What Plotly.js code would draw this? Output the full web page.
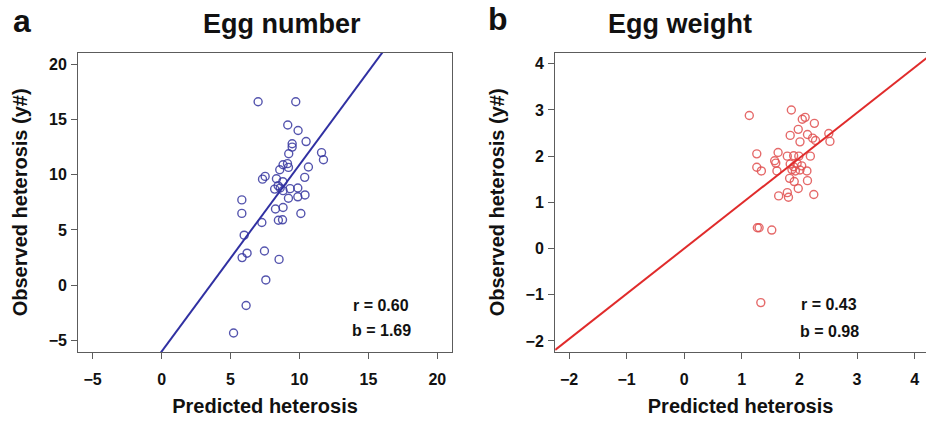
<!DOCTYPE html>
<html>
<head>
<meta charset="utf-8">
<script src="https://cdn.plot.ly/plotly-3.0.1.min.js"></script>
<style>
  html, body { margin: 0; padding: 0; background: #ffffff; }
  #chart { width: 926px; height: 421px; }
</style>
</head>
<body>
<div id="chart"></div>
<script>
// Panel a: egg number, predicted vs observed heterosis
const eggNumberPredicted = [
  7.0, 9.73, 9.15, 9.9, 10.48, 9.47, 9.47, 11.6, 11.74, 9.22,
  8.81, 9.13, 9.2, 8.57, 10.65, 7.51, 7.32, 10.38, 8.33, 8.79,
  8.45, 8.6, 8.2, 8.81, 9.32, 9.88, 9.88, 10.4, 9.2, 5.82,
  5.82, 8.26, 8.81, 10.1, 8.47, 8.77, 7.27, 5.99, 6.2, 5.84,
  7.46, 8.52, 7.56, 6.13, 5.22
];
const eggNumberObserved = [
  16.6, 16.6, 14.5, 14.0, 13.0, 12.8, 12.5, 12.0, 11.35, 11.9,
  10.9, 11.0, 10.66, 10.45, 10.7, 9.85, 9.6, 9.76, 9.64, 9.37,
  9.0, 8.8, 8.7, 8.56, 8.74, 8.8, 8.0, 8.17, 7.87, 7.72,
  6.5, 6.9, 7.03, 6.49, 5.88, 5.92, 5.68, 4.53, 2.9, 2.5,
  3.1, 2.34, 0.48, -1.83, -4.32
];
const eggNumberFit = { r: 0.60, slope: 1.69, intercept: -6.0 };

// Panel b: egg weight, predicted vs observed heterosis
const eggWeightPredicted = [
  1.13, 1.86, 2.05, 2.10, 2.26, 1.98, 1.84, 2.14, 2.01, 2.23,
  2.28, 2.51, 2.53, 1.26, 1.63, 1.79, 1.90, 1.99, 2.19, 1.57,
  1.59, 1.26, 1.34, 1.61, 1.84, 1.90, 1.96, 2.04, 1.87, 1.93,
  2.01, 2.13, 1.83, 1.91, 2.14, 1.98, 1.64, 1.79, 1.81, 2.25,
  1.27, 1.30, 1.52, 1.33
];
const eggWeightObserved = [
  2.88, 3.0, 2.8, 2.84, 2.71, 2.58, 2.45, 2.47, 2.31, 2.39,
  2.34, 2.49, 2.32, 2.05, 2.08, 2.0, 2.01, 2.0, 2.0, 1.9,
  1.85, 1.76, 1.68, 1.68, 1.83, 1.77, 1.84, 1.79, 1.71, 1.68,
  1.70, 1.68, 1.52, 1.45, 1.47, 1.30, 1.14, 1.21, 1.11, 1.17,
  0.45, 0.45, 0.40, -1.17
];
const eggWeightFit = { r: 0.43, slope: 0.98, intercept: 0.0 };

// Tick values
const ticksA = [-5, 0, 5, 10, 15, 20];
const ticksB = [-2, -1, 0, 1, 2, 3, 4];

// Axis ranges (R-style 4% padding)
const xRangeA = [-6.04, 21.04];
const yRangeA = [-6.04, 21.04];
const xRangeB = [-2.24, 4.198];
const yRangeB = [-2.24, 4.24];

const FONT = 'Liberation Sans, Arial, Helvetica, sans-serif';
const FRAME = '#5c5c5c';
const W = 926, H = 421;
const px = v => v / W;
const py = v => 1 - v / H;

function fitLine(fit, range) {
  return { x: range.slice(), y: range.map(v => fit.slope * v + fit.intercept) };
}

const lineA = fitLine(eggNumberFit, xRangeA);
const lineB = fitLine(eggWeightFit, [xRangeB[0], 4.24]);

const traces = [
  {
    x: eggNumberPredicted, y: eggNumberObserved, xaxis: 'x', yaxis: 'y',
    type: 'scatter', mode: 'markers',
    marker: { symbol: 'circle-open', size: 8, color: 'rgba(55,55,160,0.85)', line: { width: 1.4 } },
    hoverinfo: 'x+y'
  },
  {
    x: lineA.x, y: lineA.y, xaxis: 'x', yaxis: 'y',
    type: 'scatter', mode: 'lines',
    line: { color: '#3030a2', width: 2 }, hoverinfo: 'skip'
  },
  {
    x: eggWeightPredicted, y: eggWeightObserved, xaxis: 'x2', yaxis: 'y2',
    type: 'scatter', mode: 'markers',
    marker: { symbol: 'circle-open', size: 8, color: 'rgba(225,80,80,0.85)', line: { width: 1.4 } },
    hoverinfo: 'x+y'
  },
  {
    x: lineB.x, y: lineB.y, xaxis: 'x2', yaxis: 'y2',
    type: 'scatter', mode: 'lines',
    line: { color: '#e02b2b', width: 2 }, hoverinfo: 'skip'
  }
];

const tickFont = { family: FONT, size: 16, color: '#111', weight: 'bold' };
const titleFont = { family: FONT, size: 20, color: '#111', weight: 'bold' };

function axisBase(extra) {
  return Object.assign({
    ticks: 'outside', ticklen: 6, tickwidth: 1, tickcolor: FRAME,
    showline: true, linecolor: FRAME, linewidth: 1.2,
    showgrid: false, zeroline: false, tickfont: tickFont,
    fixedrange: true
  }, extra);
}

const yDomain = [(H - 352) / H, (H - 52.7) / H];

const layout = {
  width: W, height: H,
  margin: { l: 0, r: 0, t: 0, b: 0 },
  paper_bgcolor: '#ffffff', plot_bgcolor: '#ffffff',
  showlegend: false,
  font: { family: FONT },
  xaxis: axisBase({
    domain: [px(78.3), px(451.7)], range: xRangeA, tickvals: ticksA, anchor: 'y', mirror: true,
    ticklabelstandoff: 7,
    title: { text: 'Predicted heterosis', font: titleFont, standoff: 11 }
  }),
  yaxis: axisBase({
    domain: yDomain, range: yRangeA, tickvals: ticksA, anchor: 'x', mirror: true,
    ticklabelstandoff: 1,
    title: { text: 'Observed heterosis (y#)', font: titleFont, standoff: 15 }
  }),
  xaxis2: axisBase({
    domain: [px(555.2), 1], range: xRangeB, tickvals: ticksB, anchor: 'y2', mirror: true,
    ticklabelstandoff: 7,
    title: { text: 'Predicted heterosis', font: titleFont, standoff: 11 }
  }),
  yaxis2: axisBase({
    domain: yDomain, range: yRangeB, tickvals: ticksB, anchor: 'x2', mirror: false,
    ticklabelstandoff: 1,
    title: { text: 'Observed heterosis (y#)', font: titleFont, standoff: 15 }
  }),
  annotations: [
    { text: 'a', x: px(22), y: py(21), xref: 'paper', yref: 'paper', showarrow: false,
      xanchor: 'center', yanchor: 'middle', font: { family: FONT, size: 32, color: '#111', weight: 'bold' } },
    { text: 'b', x: px(498), y: py(19), xref: 'paper', yref: 'paper', showarrow: false,
      xanchor: 'center', yanchor: 'middle', font: { family: FONT, size: 32, color: '#111', weight: 'bold' } },
    { text: 'Egg number', x: px(282), y: py(24), xref: 'paper', yref: 'paper', showarrow: false,
      xanchor: 'center', yanchor: 'middle', font: { family: FONT, size: 27, color: '#111', weight: 'bold' } },
    { text: 'Egg weight', x: px(680), y: py(24), xref: 'paper', yref: 'paper', showarrow: false,
      xanchor: 'center', yanchor: 'middle', font: { family: FONT, size: 27, color: '#111', weight: 'bold' } },
    { text: 'r = ' + eggNumberFit.r.toFixed(2), x: px(381), y: py(305), xref: 'paper', yref: 'paper', showarrow: false,
      xanchor: 'center', yanchor: 'middle', font: { family: FONT, size: 16, color: '#111', weight: 'bold' } },
    { text: 'b = ' + eggNumberFit.slope.toFixed(2), x: px(381), y: py(330), xref: 'paper', yref: 'paper', showarrow: false,
      xanchor: 'center', yanchor: 'middle', font: { family: FONT, size: 16, color: '#111', weight: 'bold' } },
    { text: 'r = ' + eggWeightFit.r.toFixed(2), x: px(829), y: py(304), xref: 'paper', yref: 'paper', showarrow: false,
      xanchor: 'center', yanchor: 'middle', font: { family: FONT, size: 16, color: '#111', weight: 'bold' } },
    { text: 'b = ' + eggWeightFit.slope.toFixed(2), x: px(829), y: py(331), xref: 'paper', yref: 'paper', showarrow: false,
      xanchor: 'center', yanchor: 'middle', font: { family: FONT, size: 16, color: '#111', weight: 'bold' } }
  ]
};

Plotly.newPlot('chart', traces, layout, { staticPlot: true, displayModeBar: false });
</script>
</body>
</html>
